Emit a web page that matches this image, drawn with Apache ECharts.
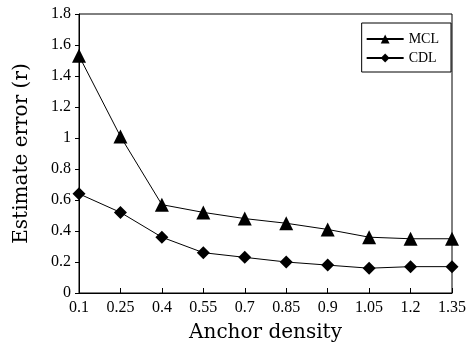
<!DOCTYPE html>
<html>
<head>
<meta charset="utf-8">
<script src="https://cdn.jsdelivr.net/npm/echarts@6/dist/echarts.min.js"></script>
<style>
  html, body { margin: 0; padding: 0; background: #fff; }
  #chart { width: 469px; height: 350px; }
</style>
</head>
<body>
<div id="chart"></div>
<script>
// data
var densities = ['0.1', '0.25', '0.4', '0.55', '0.7', '0.85', '0.9', '1.05', '1.2', '1.35'];
var mclError = [1.53, 1.01, 0.57, 0.52, 0.48, 0.45, 0.41, 0.36, 0.35, 0.35];
var cdlError = [0.64, 0.52, 0.36, 0.26, 0.23, 0.20, 0.18, 0.16, 0.17, 0.17];

var serif = '"Liberation Serif", "DejaVu Serif", serif';
var wideSerif = '"DejaVu Serif", "Liberation Serif", serif';

var chart = echarts.init(document.getElementById('chart'));

var lineSeries = function (name, data, symbol, size) {
    return {
        name: name,
        type: 'line',
        data: data,
        symbol: symbol,
        symbolSize: size,
        lineStyle: { color: '#000', width: 1 },
        itemStyle: { color: '#000' }
    };
};

chart.setOption({
    animation: false,
    grid: {
        left: 79, right: 15, top: 14, bottom: 57,
        show: true, borderColor: '#000', borderWidth: 1
    },
    legend: {
        orient: 'vertical',
        right: 18,
        top: 23,
        itemWidth: 37,
        itemHeight: 11,
        itemGap: 5,
        padding: [9, 12, 7, 4],
        borderColor: '#000',
        borderWidth: 1,
        textStyle: { fontFamily: serif, fontSize: 14, color: '#000' },
        data: ['MCL', 'CDL']
    },
    xAxis: {
        type: 'category',
        data: densities,
        boundaryGap: false,
        name: 'Anchor density',
        nameLocation: 'middle',
        nameGap: 30,
        nameTextStyle: { fontFamily: wideSerif, fontSize: 20, color: '#000' },
        axisLine: { lineStyle: { color: '#000', width: 1 } },
        axisTick: { inside: true, length: 5, lineStyle: { color: '#000' } },
        axisLabel: { fontFamily: serif, fontSize: 16, color: '#000', margin: 7 },
        splitLine: { show: false }
    },
    yAxis: {
        type: 'value',
        min: 0,
        max: 1.8,
        interval: 0.2,
        name: 'Estimate error (r)',
        nameLocation: 'middle',
        nameRotate: 90,
        nameGap: 47,
        nameTextStyle: { fontFamily: wideSerif, fontSize: 20, color: '#000' },
        axisLine: { show: true, lineStyle: { color: '#000', width: 1 } },
        axisTick: { show: true, length: 4, lineStyle: { color: '#000' } },
        axisLabel: { fontFamily: serif, fontSize: 16, color: '#000', margin: 8 },
        splitLine: { show: false }
    },
    series: [
        lineSeries('MCL', mclError, 'triangle', 14),
        lineSeries('CDL', cdlError, 'diamond', 13)
    ]
});
</script>
</body>
</html>
